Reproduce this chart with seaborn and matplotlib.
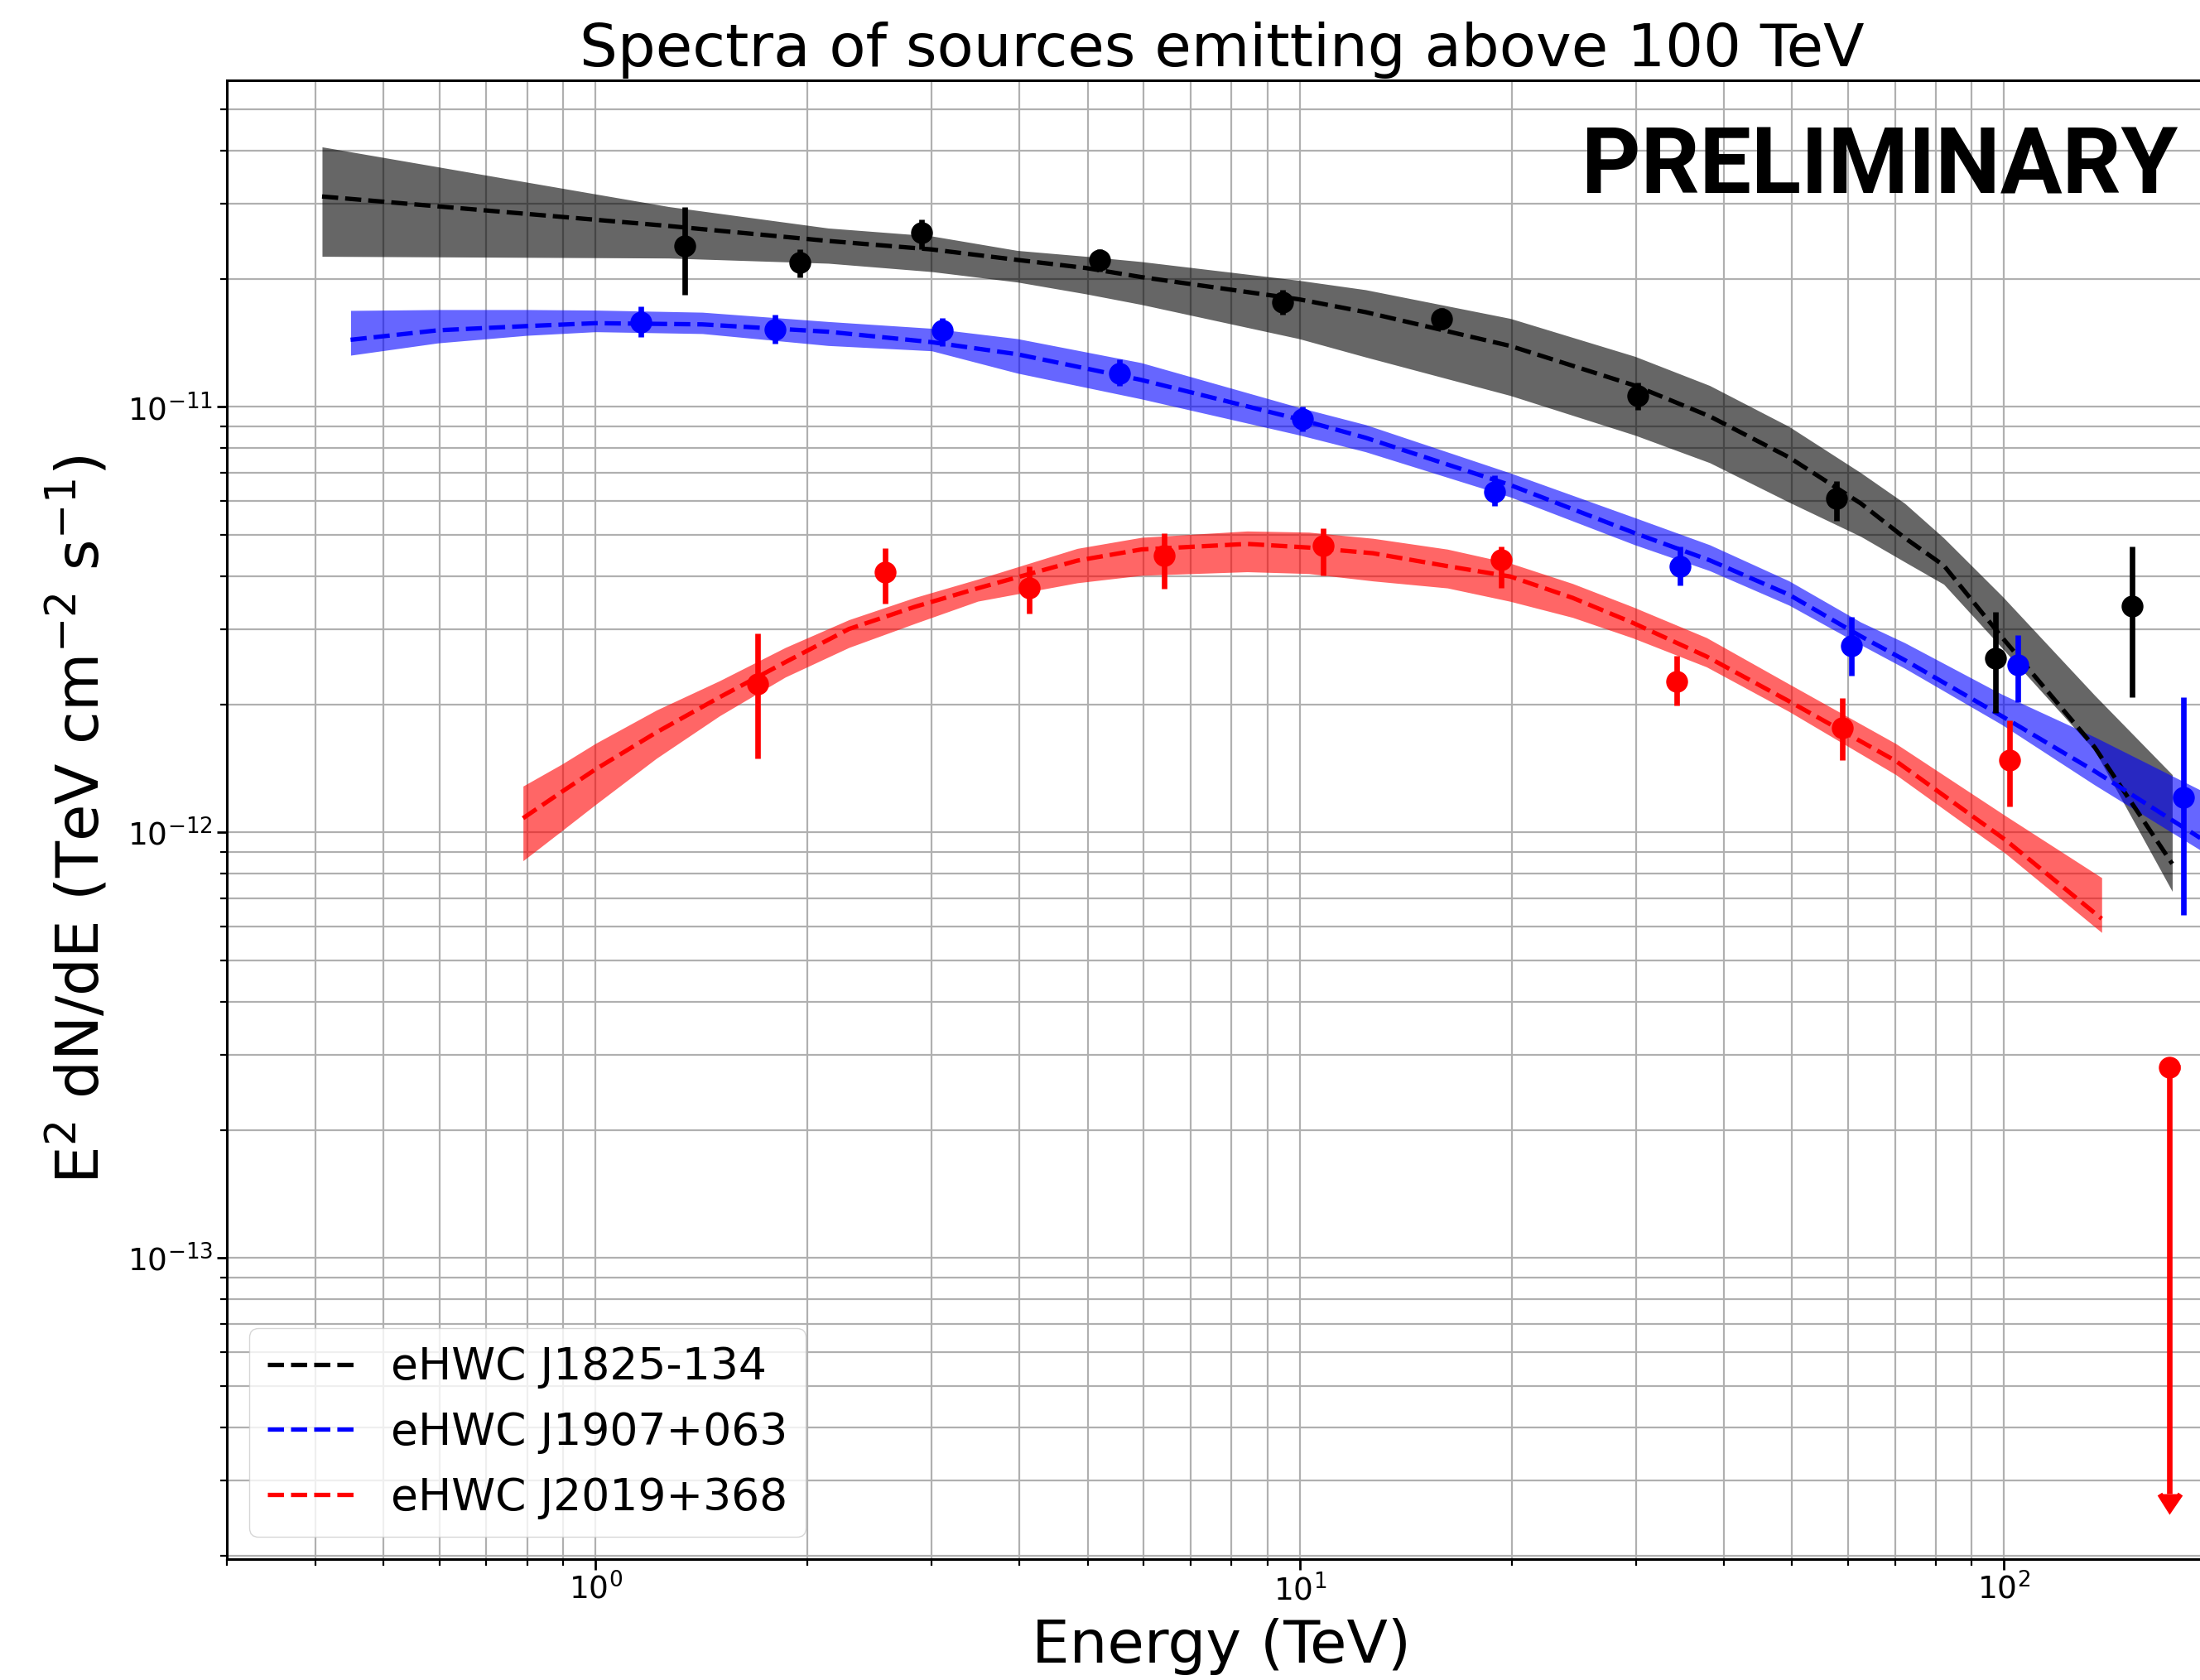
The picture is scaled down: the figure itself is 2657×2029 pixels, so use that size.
import numpy as np
import matplotlib
matplotlib.use("Agg")
import matplotlib.pyplot as plt
import seaborn as sns

# ---------------- data ----------------
labels = ["eHWC J1825-134", "eHWC J1907+063", "eHWC J2019+368"]
colors = ["black", "blue", "red"]

# model curves (dashed) and uncertainty bands
e_mod_1825 = [0.409, 1.27, 2.14, 3.0, 3.97, 4.97, 5.95, 9.97, 12.4, 19.9, 29.9, 38.2, 49.5, 62.6, 72.3, 82.1, 99.4, 134.5, 173.3]
f_mod_1825 = [3.12e-11, 2.66e-11, 2.453e-11, 2.343e-11, 2.214e-11, 2.119e-11, 2.018e-11, 1.789e-11, 1.669e-11, 1.390e-11,
              1.122e-11, 9.50e-12, 7.61e-12, 5.93e-12, 4.92e-12, 4.24e-12, 2.87e-12, 1.585e-12, 8.44e-13]
f_hi_1825 = [4.08e-11, 2.954e-11, 2.63e-11, 2.52e-11, 2.33e-11, 2.257e-11, 2.194e-11, 1.982e-11, 1.884e-11, 1.613e-11,
             1.314e-11, 1.122e-11, 8.99e-12, 7.00e-12, 5.93e-12, 4.92e-12, 3.59e-12, 2.10e-12, 1.367e-12]
f_lo_1825 = [2.257e-11, 2.236e-11, 2.174e-11, 2.078e-11, 1.964e-11, 1.842e-11, 1.740e-11, 1.446e-11, 1.309e-11, 1.063e-11,
             8.58e-12, 7.39e-12, 5.97e-12, 4.96e-12, 4.32e-12, 3.83e-12, 2.71e-12, 1.559e-12, 7.27e-13]

e_mod_1907 = [0.449, 0.598, 0.80, 1.0, 1.418, 2.14, 3.0, 3.97, 5.95, 9.97, 12.4, 19.9, 29.9, 38.2, 49.5, 62.6, 72.3, 99.4, 134.5, 190.0]
f_mod_1907 = [1.437e-11, 1.513e-11, 1.548e-11, 1.572e-11, 1.562e-11, 1.501e-11, 1.419e-11, 1.329e-11, 1.157e-11, 9.35e-12,
              8.46e-12, 6.55e-12, 5.05e-12, 4.36e-12, 3.62e-12, 2.89e-12, 2.54e-12, 1.874e-12, 1.393e-12, 9.70e-13]
f_hi_1907 = [1.684e-11, 1.692e-11, 1.692e-11, 1.687e-11, 1.668e-11, 1.586e-11, 1.529e-11, 1.446e-11, 1.270e-11, 9.97e-12,
             9.08e-12, 6.99e-12, 5.49e-12, 4.74e-12, 3.90e-12, 3.12e-12, 2.79e-12, 2.11e-12, 1.676e-12, 1.258e-12]
f_lo_1907 = [1.322e-11, 1.413e-11, 1.472e-11, 1.501e-11, 1.486e-11, 1.393e-11, 1.354e-11, 1.200e-11, 1.044e-11, 8.59e-12,
             7.84e-12, 6.14e-12, 4.74e-12, 4.12e-12, 3.42e-12, 2.76e-12, 2.43e-12, 1.79e-12, 1.293e-12, 9.09e-13]

e_mod_2019 = [0.789, 0.897, 1.0, 1.22, 1.50, 1.86, 2.29, 2.84, 3.49, 4.83, 5.96, 8.42, 10.3, 12.7, 16.2, 19.9, 24.4, 29.7,
              37.8, 49.5, 70.2, 100.5, 137.6]
f_mod_2019 = [1.080e-12, 1.248e-12, 1.407e-12, 1.718e-12, 2.078e-12, 2.512e-12, 3.006e-12, 3.389e-12, 3.747e-12, 4.351e-12,
              4.623e-12, 4.763e-12, 4.670e-12, 4.529e-12, 4.224e-12, 3.993e-12, 3.558e-12, 3.109e-12, 2.591e-12, 2.034e-12,
              1.472e-12, 9.60e-13, 6.27e-13]
f_hi_2019 = [1.285e-12, 1.449e-12, 1.619e-12, 1.938e-12, 2.272e-12, 2.720e-12, 3.161e-12, 3.564e-12, 3.936e-12, 4.648e-12,
             4.935e-12, 5.107e-12, 5.075e-12, 4.909e-12, 4.630e-12, 4.292e-12, 3.844e-12, 3.389e-12, 2.869e-12, 2.233e-12,
             1.617e-12, 1.094e-12, 7.83e-13]
f_lo_2019 = [8.58e-13, 1.011e-12, 1.163e-12, 1.493e-12, 1.879e-12, 2.318e-12, 2.720e-12, 3.097e-12, 3.494e-12, 3.859e-12,
             4.018e-12, 4.097e-12, 4.057e-12, 3.898e-12, 3.753e-12, 3.491e-12, 3.200e-12, 2.864e-12, 2.449e-12, 1.924e-12,
             1.367e-12, 8.92e-13, 5.82e-13]

# flux points
e_pts_1825 = [1.34, 1.95, 2.90, 5.19, 9.46, 15.9, 30.2, 57.9, 97.3, 151.8]
f_pts_1825 = [2.39e-11, 2.18e-11, 2.56e-11, 2.21e-11, 1.76e-11, 1.61e-11, 1.06e-11, 6.10e-12, 2.57e-12, 3.40e-12]
f_up_1825 = [2.95e-11, 2.35e-11, 2.76e-11, 2.35e-11, 1.88e-11, 1.71e-11, 1.14e-11, 6.70e-12, 3.30e-12, 4.70e-12]
f_dn_1825 = [1.83e-11, 2.01e-11, 2.35e-11, 2.08e-11, 1.65e-11, 1.52e-11, 9.85e-12, 5.40e-12, 1.91e-12, 2.08e-12]

e_pts_1907 = [1.16, 1.80, 3.11, 5.55, 10.1, 18.9, 34.7, 60.7, 104.7, 180.0]
f_pts_1907 = [1.58e-11, 1.52e-11, 1.51e-11, 1.20e-11, 9.35e-12, 6.32e-12, 4.21e-12, 2.75e-12, 2.48e-12, 1.21e-12]
f_up_1907 = [1.72e-11, 1.65e-11, 1.62e-11, 1.29e-11, 1.00e-11, 6.90e-12, 4.70e-12, 3.21e-12, 2.91e-12, 2.08e-12]
f_dn_1907 = [1.46e-11, 1.41e-11, 1.39e-11, 1.12e-11, 8.75e-12, 5.85e-12, 3.80e-12, 2.34e-12, 2.02e-12, 6.40e-13]

e_pts_2019 = [1.70, 2.58, 4.13, 6.41, 10.8, 19.3]
f_pts_2019 = [2.23e-12, 4.09e-12, 3.76e-12, 4.48e-12, 4.72e-12, 4.37e-12]
f_up_2019 = [2.93e-12, 4.66e-12, 4.22e-12, 5.05e-12, 5.18e-12, 4.70e-12]
f_dn_2019 = [1.49e-12, 3.45e-12, 3.27e-12, 3.73e-12, 4.02e-12, 3.75e-12]
e_pts_2019b = [34.3, 59.0, 101.8]
f_pts_2019b = [2.26e-12, 1.76e-12, 1.48e-12]
f_up_2019b = [2.60e-12, 2.07e-12, 1.83e-12]
f_dn_2019b = [1.99e-12, 1.48e-12, 1.15e-12]

# upper limit (J2019+368)
e_ul_2019 = [171.8]
f_ul_2019 = [2.81e-13]
f_ul_end_2019 = [2.79e-14]

title = "Spectra of sources emitting above 100 TeV"
xlabel = "Energy (TeV)"
ylabel = r"E$^2$ dN/dE (TeV cm$^{-2}$ s$^{-1}$)"
watermark = "PRELIMINARY"

# ---------------- plot ----------------
sns.set_style("ticks")
plt.rcParams["font.family"] = ["DejaVu Sans"]
plt.rcParams["mathtext.fontset"] = "dejavusans"
for k in ["text.color", "axes.labelcolor", "xtick.color", "ytick.color", "axes.edgecolor"]:
    plt.rcParams[k] = "black"

W, H, DPI = 2657, 2029, 100
fig = plt.figure(figsize=(W / DPI, H / DPI), dpi=DPI)
ax = fig.add_axes([0.1033, 0.0720, 0.9040, 0.8804])
ax.set_xscale("log")
ax.set_yscale("log")

models = [
    (e_mod_1825, f_mod_1825, f_lo_1825, f_hi_1825),
    (e_mod_1907, f_mod_1907, f_lo_1907, f_hi_1907),
    (e_mod_2019, f_mod_2019, f_lo_2019, f_hi_2019),
]
for (e, f, lo, hi), c in zip(models, colors):
    ax.fill_between(e, lo, hi, color=c, alpha=0.6, linewidth=0, zorder=2)

for (e, f, lo, hi), c, lab in zip(models, colors, labels):
    sns.lineplot(x=e, y=f, ax=ax, color=c, linestyle="--", linewidth=3.8,
                 estimator=None, sort=True, legend=False, label=lab, zorder=3)

pts = [
    (e_pts_1825, f_pts_1825, f_dn_1825, f_up_1825, "black"),
    (e_pts_1907, f_pts_1907, f_dn_1907, f_up_1907, "blue"),
    (e_pts_2019, f_pts_2019, f_dn_2019, f_up_2019, "red"),
    (e_pts_2019b, f_pts_2019b, f_dn_2019b, f_up_2019b, "red"),
]
for e, f, dn, up, c in pts:
    f = np.array(f); dn = np.array(dn); up = np.array(up)
    ax.errorbar(e, f, yerr=[f - dn, up - f], fmt="o", color=c, ms=18,
                elinewidth=4.8, capsize=0, zorder=4)

ful = np.array(f_ul_2019)
ax.errorbar(e_ul_2019, ful, yerr=[ful - np.array(f_ul_end_2019), np.zeros_like(ful)],
            uplims=True, fmt="o", color="red", ms=18, elinewidth=4.8, capsize=9,
            capthick=4.8, zorder=4)

ax.set_xlim(0.3, 200)
ax.set_ylim(1.963e-14, 5.86e-11)
ax.grid(True, which="both", color="#b0b0b0", linewidth=1.6)
ax.set_axisbelow(True)

ax.tick_params(which="major", length=9, width=2, labelsize=27, direction="out")
ax.tick_params(which="minor", length=5.5, width=1.6, direction="out")
for s in ax.spines.values():
    s.set_linewidth(2.2)

ax.set_title(title, fontsize=52, pad=12)
ax.set_xlabel(xlabel, fontsize=52)
ax.set_ylabel(ylabel, fontsize=52)
ax.xaxis.set_label_coords(0.5, -0.040)
ax.yaxis.set_label_coords(-0.058, 0.5)

handles = [l for l in ax.get_lines() if l.get_label() in labels]
ax.legend(handles=handles, labels=labels, loc="lower left", fontsize=38.5,
          handlelength=2.0)

fig.text(0.99, 0.8848, watermark, fontsize=80, fontweight="bold",
         family=["Roboto", "DejaVu Sans"], ha="right", va="baseline")

fig.savefig("out.png", dpi=DPI)
